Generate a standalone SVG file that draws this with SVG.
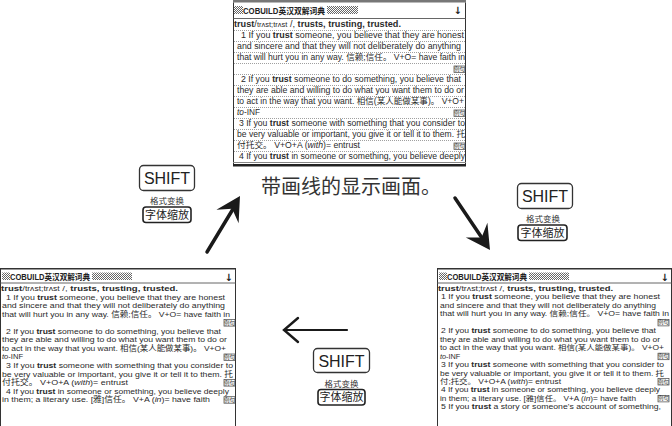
<svg xmlns="http://www.w3.org/2000/svg" width="672" height="426" viewBox="0 0 672 426">
<style>
.t{font-family:"Liberation Sans","Noto Sans CJK SC",sans-serif;font-size:8.3px;fill:#2a2a2a}
.m{font-size:7.6px}
.r{font-size:7.3px}
.s{font-size:6.8px}
.b{font-weight:bold}
.i{font-style:italic}
.ttl{font-family:"Liberation Sans","Noto Sans CJK SC",sans-serif;font-size:8.3px;font-weight:bold;fill:#222}
.arr{font-family:"DejaVu Sans",sans-serif;font-size:10px;font-weight:bold;fill:#222}
.frame{stroke:#333;stroke-width:1;fill:none}
.dot{stroke:#777;stroke-width:0.7;stroke-dasharray:1 1;fill:none}
.bdg rect{fill:#fff;stroke:#444;stroke-width:0.7}
.bdg text{font-family:"Noto Sans CJK SC",sans-serif;font-size:5.5px;fill:#333}
.key{fill:#fff;stroke:#333;stroke-width:1.3}
.key2{fill:#fff;stroke:#222;stroke-width:1.6}
.kt{font-family:"Liberation Sans",sans-serif;font-size:16px;fill:#222;text-anchor:middle}
.ks{font-family:"Noto Sans CJK SC",sans-serif;font-size:8.5px;fill:#333;text-anchor:middle}
.kz{font-family:"Noto Sans CJK SC",sans-serif;font-size:11px;fill:#222;text-anchor:middle}
.cap{font-family:"Noto Sans CJK SC",sans-serif;font-size:20px;fill:#333;text-anchor:middle}
.shaft{stroke:#1a1a1a;stroke-width:3.5;fill:none;stroke-linecap:round}
.head{fill:#1a1a1a}
</style>
<defs>
<pattern id="hatch" width="2" height="2" patternUnits="userSpaceOnUse">
<rect width="1" height="1" fill="#666"/><rect x="1" y="1" width="1" height="1" fill="#666"/>
</pattern>
<g id="badge" class="bdg"><rect x="0" y="-6" width="11" height="6.5"/><text x="5.5" y="-1" text-anchor="middle">例句</text></g>
</defs>

<g id="screen-top" transform="translate(233,0)">
<rect x="0" y="0" width="233" height="2.5" fill="#777"/>
<path class="frame" d="M0.5,2.5V166M232.5,2.5V166"/>
<rect x="1" y="6" width="9" height="8" fill="url(#hatch)"/>
<text class="ttl" x="10" y="14" textLength="82" lengthAdjust="spacingAndGlyphs">COBUILD英汉双解词典</text>
<rect x="94" y="6" width="31" height="8" fill="url(#hatch)"/>
<text class="arr" x="229" y="14" text-anchor="end">↓</text>
<path d="M0.5,18.5H232.5" stroke="#666" stroke-width="1"/>
<path class="dot" d="M1,30.5H232M1,41.5H232M1,52.5H232M1,63.5H232M1,74.5H232M1,85.5H232M1,96.5H232M1,107.5H232M1,118.5H232M1,129.5H232M1,140.5H232M1,151.5H232"/>
<text class="t" x="1" y="27" textLength="167" lengthAdjust="spacingAndGlyphs"><tspan class="b">trust</tspan>/<tspan class="s">trʌst;trʌst</tspan> /, <tspan class="b">trusts, trusting, trusted.</tspan></text>
<text class="t" x="8" y="38" textLength="223" lengthAdjust="spacingAndGlyphs">1 If you <tspan class="b">trust</tspan> someone, you believe that they are honest</text>
<text class="t" x="4" y="49" textLength="224" lengthAdjust="spacingAndGlyphs">and sincere and that they will not deliberately do anything</text>
<text class="t" x="4" y="60" textLength="228" lengthAdjust="spacingAndGlyphs">that will hurt you in any way. 信赖;信任。 V+O= have faith in</text>
<use href="#badge" x="221" y="72"/>
<text class="t" x="8" y="82" textLength="220" lengthAdjust="spacingAndGlyphs">2 If you <tspan class="b">trust</tspan> someone to do something, you believe that</text>
<text class="t" x="4" y="93" textLength="227" lengthAdjust="spacingAndGlyphs">they are able and willing to do what you want them to do or</text>
<text class="t" x="4" y="104" textLength="227" lengthAdjust="spacingAndGlyphs">to act in the way that you want. 相信(某人能做某事)。 V+O+</text>
<text class="t" x="4" y="115"><tspan class="i">to</tspan>-INF</text>
<use href="#badge" x="221" y="116"/>
<text class="t" x="6" y="126" textLength="226" lengthAdjust="spacingAndGlyphs">3 If you <tspan class="b">trust</tspan> someone with something that you consider to</text>
<text class="t" x="4" y="137" textLength="228" lengthAdjust="spacingAndGlyphs">be very valuable or important, you give it or tell it to them. 托</text>
<text class="t" x="4" y="148" textLength="123" lengthAdjust="spacingAndGlyphs">付托交。 V+O+A (<tspan class="i">with</tspan>)= entrust</text>
<use href="#badge" x="221" y="149"/>
<text class="t" x="6" y="159" textLength="226" lengthAdjust="spacingAndGlyphs">4 If you <tspan class="b">trust</tspan> in someone or something, you believe deeply</text>
<rect x="0" y="162" width="233" height="1" fill="#888"/>
<rect x="0" y="164" width="233" height="2.5" fill="#222"/>
</g>

<g id="screen-left" transform="translate(0,268)">
<rect x="0" y="0" width="236" height="1.5" fill="#333"/>
<path class="frame" d="M0.5,1V158M235.5,1V158"/>
<rect x="2" y="4.5" width="8" height="7.5" fill="url(#hatch)"/>
<text class="ttl" x="10" y="12" textLength="80" lengthAdjust="spacingAndGlyphs">COBUILD英汉双解词典</text>
<rect x="92" y="4.5" width="40" height="7.5" fill="url(#hatch)"/>
<text class="arr" x="233" y="12.5" text-anchor="end">↓</text>
<path d="M0.5,15H235.5" stroke="#666" stroke-width="1"/>
<g class="t m">
<text x="1" y="23" textLength="177" lengthAdjust="spacingAndGlyphs"><tspan class="b">trust</tspan>/<tspan class="s">trʌst;trʌst</tspan> /, <tspan class="b">trusts, trusting, trusted.</tspan></text>
<text x="6" y="31.55" textLength="219" lengthAdjust="spacingAndGlyphs">1 If you <tspan class="b">trust</tspan> someone, you believe that they are honest</text>
<text x="2" y="40.1" textLength="223" lengthAdjust="spacingAndGlyphs">and sincere and that they will not deliberately do anything</text>
<text x="2" y="48.65" textLength="228" lengthAdjust="spacingAndGlyphs">that will hurt you in any way. 信赖;信任。 V+O= have faith in</text>
<text x="6" y="65.75" textLength="215" lengthAdjust="spacingAndGlyphs">2 If you <tspan class="b">trust</tspan> someone to do something, you believe that</text>
<text x="2" y="74.3" textLength="225" lengthAdjust="spacingAndGlyphs">they are able and willing to do what you want them to do or</text>
<text x="2" y="82.85" textLength="224" lengthAdjust="spacingAndGlyphs">to act in the way that you want. 相信(某人能做某事)。 V+O+</text>
<text x="2" y="91.4"><tspan class="i">to</tspan>-INF</text>
<text x="6" y="99.95" textLength="227" lengthAdjust="spacingAndGlyphs">3 If you <tspan class="b">trust</tspan> someone with something that you consider to</text>
<text x="2" y="108.5" textLength="231" lengthAdjust="spacingAndGlyphs">be very valuable or important, you give it or tell it to them. 托</text>
<text x="2" y="117.05" textLength="126" lengthAdjust="spacingAndGlyphs">付托交。 V+O+A (<tspan class="i">with</tspan>)= entrust</text>
<text x="6" y="125.6" textLength="223" lengthAdjust="spacingAndGlyphs">4 If you <tspan class="b">trust</tspan> in someone or something, you believe deeply</text>
<text x="2" y="134.15" textLength="208" lengthAdjust="spacingAndGlyphs">in them; a literary use. [雅]信任。 V+A (<tspan class="i">in</tspan>)= have faith</text>
</g>
<use href="#badge" x="224" y="57.6"/>
<use href="#badge" x="224" y="92"/>
<use href="#badge" x="224" y="117.6"/>
<use href="#badge" x="224" y="134.7"/>
</g>

<g id="screen-right" transform="translate(437,268)">
<rect x="0" y="0" width="235" height="1.5" fill="#333"/>
<path class="frame" d="M0.5,1V158M234.5,1V158"/>
<rect x="2" y="4.5" width="8" height="7.5" fill="url(#hatch)"/>
<text class="ttl" x="10" y="12" textLength="80" lengthAdjust="spacingAndGlyphs">COBUILD英汉双解词典</text>
<rect x="92" y="4.5" width="40" height="7.5" fill="url(#hatch)"/>
<text class="arr" x="232" y="12.5" text-anchor="end">↓</text>
<path d="M0.5,15H234.5" stroke="#666" stroke-width="1"/>
<g class="t r">
<text x="1" y="23" textLength="175" lengthAdjust="spacingAndGlyphs"><tspan class="b">trust</tspan>/<tspan class="s">trʌst;trʌst</tspan> /, <tspan class="b">trusts, trusting, trusted.</tspan></text>
<text x="4" y="31.45" textLength="219" lengthAdjust="spacingAndGlyphs">1 If you <tspan class="b">trust</tspan> someone, you believe that they are honest</text>
<text x="3" y="39.9" textLength="216" lengthAdjust="spacingAndGlyphs">and sincere and that they will not deliberately do anything</text>
<text x="3" y="48.35" textLength="229" lengthAdjust="spacingAndGlyphs">that will hurt you in any way. 信赖;信任。 V+O= have faith in</text>
<text x="4" y="65.25" textLength="215" lengthAdjust="spacingAndGlyphs">2 If you <tspan class="b">trust</tspan> someone to do something, you believe that</text>
<text x="3" y="73.7" textLength="220" lengthAdjust="spacingAndGlyphs">they are able and willing to do what you want them to do or</text>
<text x="3" y="82.15" textLength="224" lengthAdjust="spacingAndGlyphs">to act in the way that you want. 相信(某人能做某事)。 V+O+</text>
<text x="3" y="90.6"><tspan class="i">to</tspan>-INF</text>
<text x="4" y="99.05" textLength="223" lengthAdjust="spacingAndGlyphs">3 If you <tspan class="b">trust</tspan> someone with something that you consider to</text>
<text x="3" y="107.5" textLength="224" lengthAdjust="spacingAndGlyphs">be very valuable or important, you give it or tell it to them. 托</text>
<text x="3" y="115.95" textLength="121" lengthAdjust="spacingAndGlyphs">付;托交。 V+O+A (<tspan class="i">with</tspan>)= entrust</text>
<text x="4" y="124.4" textLength="219" lengthAdjust="spacingAndGlyphs">4 If you <tspan class="b">trust</tspan> in someone or something, you believe deeply</text>
<text x="3" y="132.85" textLength="196" lengthAdjust="spacingAndGlyphs">in them; a literary use. [雅]信任。 V+A (<tspan class="i">in</tspan>)= have faith</text>
<text x="4" y="141.3" textLength="220" lengthAdjust="spacingAndGlyphs">5 If you <tspan class="b">trust</tspan> a story or someone's account of something,</text>
</g>
<use href="#badge" x="221" y="57.4"/>
<use href="#badge" x="221" y="91.2"/>
<use href="#badge" x="221" y="116.5"/>
<use href="#badge" x="221" y="133.4"/>
</g>

<g id="caption">
<text class="cap" x="351" y="194">带画线的显示画面。</text>
</g>

<g id="key-left">
<rect class="key" x="139.5" y="165.5" width="55" height="25" rx="4"/>
<text class="kt" x="167" y="184">SHIFT</text>
<text class="ks" x="167" y="203.5">格式变换</text>
<rect class="key2" x="143" y="207" width="48" height="15.5" rx="3"/>
<text class="kz" x="167" y="218.8">字体缩放</text>
</g>

<g id="key-right">
<rect class="key" x="517.5" y="183.5" width="55" height="25" rx="4"/>
<text class="kt" x="545" y="202">SHIFT</text>
<text class="ks" x="543" y="221.5">格式变换</text>
<rect class="key2" x="518" y="225" width="49" height="15.5" rx="3"/>
<text class="kz" x="542.5" y="236.8">字体缩放</text>
</g>

<g id="key-bottom">
<rect class="key" x="313.5" y="348.5" width="56" height="24" rx="4"/>
<text class="kt" x="341.5" y="366.5">SHIFT</text>
<text class="ks" x="341.5" y="386.5">格式变换</text>
<rect class="key2" x="318" y="389.5" width="47" height="15.5" rx="3"/>
<text class="kz" x="341.5" y="401.3">字体缩放</text>
</g>

<g id="connectors">
<path class="shaft" d="M207,252L233,209"/>
<polygon class="head" points="240,196 216.4,209.7 232.2,208.8 238.6,223.3"/>
<path class="shaft" d="M455,198L482,238"/>
<polygon class="head" points="490,250 465.8,237.4 481.6,237.6 487.4,222.8"/>
<path class="shaft" style="stroke-width:2.2" d="M347,330H285"/>
<path class="shaft" style="stroke-width:2.4;stroke-linejoin:miter" d="M298,318L284,330L298,342"/>
</g>
</svg>
